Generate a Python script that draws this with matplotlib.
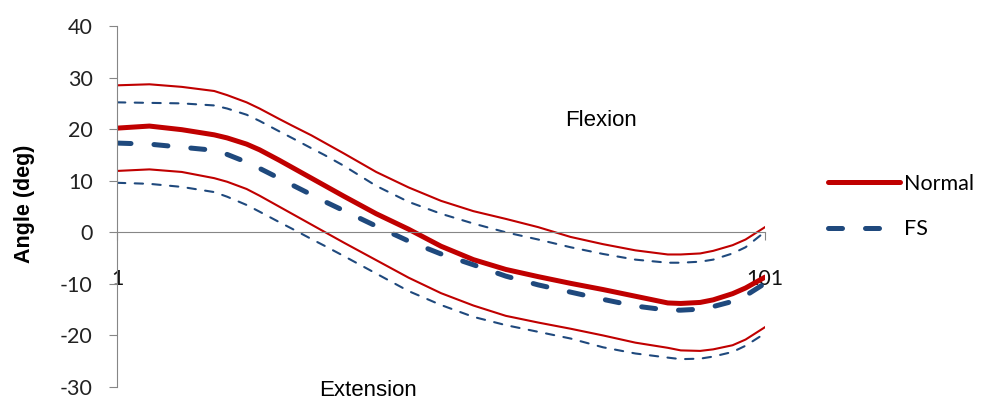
import matplotlib
matplotlib.use('Agg')
import matplotlib.pyplot as plt

plt.rcParams['axes.unicode_minus'] = False

# knee angle over the stride (frames 1..101), denser sampling at the bends
frames = [1, 6, 11, 16, 18, 21, 23, 26, 28, 31, 33, 36, 41, 46, 51, 56,
          61, 66, 71, 76, 81, 86, 88, 91, 93, 96, 98, 101]

normal_mean = [20.2, 20.6, 19.9, 18.9, 18.3, 17.1, 16.0, 14.0, 12.6, 10.5,
               9.1, 7.0, 3.6, 0.6, -2.7, -5.3, -7.2, -8.6, -9.9, -11.1,
               -12.4, -13.7, -13.8, -13.6, -13.1, -11.9, -10.8, -8.7]
normal_upper = [28.5, 28.7, 28.2, 27.4, 26.6, 25.2, 24.0, 22.0, 20.7, 18.8,
                17.4, 15.3, 11.7, 8.7, 6.1, 4.1, 2.6, 1.0, -0.9, -2.3,
                -3.5, -4.3, -4.3, -4.1, -3.6, -2.5, -1.4, 1.0]
normal_lower = [11.9, 12.2, 11.7, 10.5, 9.8, 8.4, 7.1, 5.0, 3.6, 1.5,
                0.1, -2.0, -5.4, -8.8, -11.8, -14.2, -16.2, -17.5, -18.7, -20.0,
                -21.4, -22.4, -22.9, -23.0, -22.7, -21.9, -20.8, -18.4]

fs_mean = [17.3, 17.1, 16.5, 15.9, 15.1, 13.6, 12.4, 10.5, 9.2, 7.3,
           6.0, 4.2, 1.2, -1.7, -4.2, -6.3, -8.5, -10.2, -11.6, -13.0,
           -14.3, -15.1, -15.1, -14.9, -14.4, -13.4, -12.3, -9.9]
fs_upper = [25.2, 25.1, 25.0, 24.6, 24.0, 22.8, 21.6, 19.6, 18.3, 16.3,
            15.0, 12.9, 9.0, 5.9, 3.6, 1.7, 0.0, -1.4, -2.9, -4.2,
            -5.3, -5.9, -5.9, -5.7, -5.3, -4.1, -2.9, 0.1]
fs_lower = [9.6, 9.4, 8.8, 7.8, 6.9, 5.3, 4.0, 2.0, 0.7, -1.3,
            -2.6, -4.6, -8.0, -11.4, -14.1, -16.4, -18.0, -19.3, -20.6, -22.3,
            -23.5, -24.3, -24.6, -24.5, -24.1, -23.2, -22.0, -19.6]

red = '#C00000'
blue = '#1F497D'
gray = '#868686'

fig = plt.figure(figsize=(9.89, 4.01), dpi=100)
ax = fig.add_axes([0.1183, 0.0349, 0.6552, 0.9002])

# +/- 1 SD bands
ax.plot(frames, normal_upper, color=red, lw=1.5)
ax.plot(frames, normal_lower, color=red, lw=1.5)
ax.plot(frames, fs_upper, color=blue, lw=1.5, dashes=(4, 4.5), dash_capstyle='round')
ax.plot(frames, fs_lower, color=blue, lw=1.5, dashes=(4, 4.5), dash_capstyle='round')

# group means
ax.plot(frames, normal_mean, color=red, lw=3.6, label='Normal', solid_capstyle='round')
ax.plot(frames, fs_mean, color=blue, lw=3.6, dashes=(2.8, 4.6),
        dash_capstyle='round', label='FS')

ax.set_xlim(1, 101)
ax.set_ylim(-30, 40)
ax.set_yticks(range(-30, 41, 10))
ax.set_xticks([1, 101])
ax.set_xticklabels(['1', '101'])

for s in ['top', 'right']:
    ax.spines[s].set_visible(False)
ax.spines['bottom'].set_position(('data', 0))
ax.spines['left'].set_color(gray)
ax.spines['bottom'].set_color(gray)

ax.tick_params(axis='y', length=5.5, color=gray, pad=12, labelsize=15.5,
               labelcolor='#222222')
ax.tick_params(axis='x', length=5.5, color=gray, pad=21, labelsize=15.5,
               labelcolor='#111111')
for lbl in ax.get_xticklabels() + ax.get_yticklabels():
    lbl.set_family('Lato')

ax.set_ylabel('Angle (deg)', fontsize=15.5, fontweight='bold',
              family='Liberation Sans')
ax.yaxis.set_label_coords(-0.1265, 0.508)

ax.text(75.7, 21.7, 'Flexion', fontsize=16, family='Liberation Sans',
        ha='center', va='center')
ax.text(39.7, -30.6, 'Extension', fontsize=16, family='Liberation Sans',
        ha='center', va='center', clip_on=False)

fig.legend(loc='center left', bbox_to_anchor=(0.826, 0.485), frameon=False,
           borderpad=0, handlelength=3.35, handletextpad=0.2, labelspacing=1.2,
           prop={'family': 'Lato', 'size': 15.5})

fig.savefig('out.png', dpi=100)
